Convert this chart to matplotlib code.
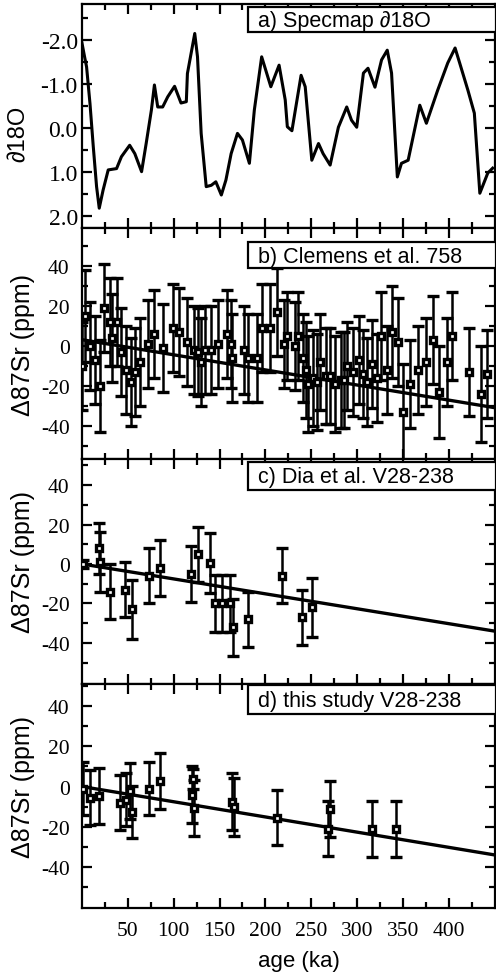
import matplotlib
matplotlib.use("Agg")
import matplotlib.pyplot as plt
from matplotlib.patches import Rectangle
from matplotlib.ticker import FixedLocator, FixedFormatter

# a) SPECMAP d18O stack (ka, normalised d18O)
spec_age = [0, 3, 5, 8.7, 12.3, 15.9, 18.8, 23, 28.6, 37.7, 43, 52, 57.6, 65, 70, 75.7,
            79, 82.6, 88, 93.5, 101, 108, 113.8, 115, 123, 126, 130, 135.5, 141, 146,
            152, 157, 162.7, 169.6, 175, 182.6, 188, 196, 206, 215, 221.7, 224, 229,
            239, 243.5, 250.7, 258, 263, 270.7, 279.7, 288.8, 294, 299.7, 307, 312,
            319.6, 326.8, 333, 337.7, 344, 348.5, 355.8, 368.5, 375.7, 388, 399, 407,
            412, 421, 428, 434, 442.7, 448]
spec_d18o = [-1.93, -1.6, -1.39, -0.56, 0.42, 1.33, 1.82, 1.41, 0.95, 0.92, 0.65, 0.39,
             0.58, 0.99, 0.35, -0.41, -0.98, -0.48, -0.48, -0.71, -0.95, -0.57, -0.6,
             -1.24, -2.15, -1.62, 0.12, 1.33, 1.3, 1.22, 1.52, 1.18, 0.58, 0.12, 0.27,
             0.8, -0.41, -1.62, -0.94, -1.43, -0.64, -0.03, 0.06, -1.2, -0.94, 0.73,
             0.35, 0.58, 0.84, -0.02, -0.48, -0.18, -0.02, -1.25, -1.36, -0.93, -1.55,
             -1.77, -1.25, 1.11, 0.8, 0.73, -0.52, -0.11, -0.86, -1.48, -1.82, -1.48,
             -0.86, -0.34, 1.48, 1.02, 0.91]

# b) Clemens et al. 758
clem_age = [0, 3, 9, 14, 20, 24, 30, 33, 38, 43, 48, 53, 58, 63, 72, 79, 88, 99, 106,
            114, 122, 126, 130, 134, 141, 148, 158, 162, 164, 177, 181, 191, 196, 205,
            213, 220, 224, 232, 236, 241, 244, 247, 252, 256, 260, 266, 271, 276, 282,
            286, 289, 296, 302, 307, 311, 316, 322, 326, 333, 338, 345, 350, 358, 366,
            375, 383, 389, 398, 404, 422, 435, 442]
clem_sr = [-10, 15, 0, -7, -20, 19, 12, 4, 12, -3, -12, -18, -13, -8, 1, 6, -1, 9, 7,
           2, -2, -3, -8, -2, -2, 1, 6, 1, -6, -2, -6, -6, 9, 9, 17, 1, 5, 0, 5, -6,
           -12, -19, -16, -18, -8, -15, -15, -19, -17, -17, -10, -13, -7, -14, -18, -9,
           -16, 5, -12, 7, 2, -33, -19, -12, -8, 3, -23, -8, 5, -13, -24, -14]
clem_err = [22, 23, 22, 22, 23, 22, 22, 22, 22, 22, 22, 22, 22, 22, 22, 22, 22, 22, 22,
            22, 22, 22, 22, 22, 22, 22, 22, 22, 22, 22, 22, 22, 22, 22, 22, 22, 22, 22,
            22, 22, 24, 24, 24, 24, 24, 24, 24, 24, 24, 24, 22, 22, 22, 22, 22, 22, 22,
            22, 22, 23, 22, 24, 22, 22, 22, 22, 23, 22, 22, 22, 24, 22]

# c) Dia et al. V28-238
dia_age = [1, 19, 19.5, 30, 47, 55, 73, 85, 119, 127, 140, 145, 153, 161, 165, 181,
           218, 240, 251]
dia_sr = [0, 8, 1, -14, -13, -23, -6, -2, -5, 5, 0.5, -20, -20, -20, -32, -28, -6,
          -27, -22]
dia_err = [2, 13, 15, 14, 14, 15, 14, 14, 14, 14, 15, 14.5, 14.5, 14.5, 14.5, 14, 14,
           14, 15]

# d) this study V28-238
this_age = [1, 9, 19, 41, 48, 52, 54, 73, 85, 120, 121, 122, 164, 166, 213, 268, 271,
            316, 342]
this_sr = [-1, -5.5, -4.6, -8, -6.5, -2.2, -12.6, -1, 2.8, -4, 3.6, -10.5, -7.5, -10,
           -15.4, -20.9, -11, -21.2, -21.2]
this_err = [13, 13.5, 14, 13.5, 13, 14, 13, 13, 14, 14, 5, 14, 14.3, 14.5, 13.5, 13.5,
            14, 14, 14]

# reference trend
trend_age = [0, 450]
trend_sr = [0, -34]
trend_sr_b = [3, -31]

x_ticks = [50, 100, 150, 200, 250, 300, 350, 400]
x_labels = ["50", "100", "150", "200", "250", "300", "350", "400"]
x_minor = [25, 75, 125, 175, 225, 275, 325, 375, 425]
d18o_ticks = [-2, -1, 0, 1, 2]
d18o_labels = ["-2.0", "-1.0", "0.0", "1.0", "2.0"]
d18o_minor = [-2.5, -1.5, -0.5, 0.5, 1.5]
sr_ticks = [-40, -20, 0, 20, 40]
sr_labels = ["-40", "-20", "0", "20", "40"]
sr_minor = [-50, -30, -10, 10, 30, 50]

titles = ["a) Specmap \u220218O", "b) Clemens et al. 758",
          "c) Dia et al. V28-238", "d) this study V28-238"]

W, H = 496, 979
SANS = ["Liberation Sans", "DejaVu Sans"]
plt.rcParams["font.family"] = ["Liberation Serif", "DejaVu Serif"]
plt.rcParams["axes.unicode_minus"] = False
plt.rcParams["axes.linewidth"] = 1.6


def fx(px):
    return px / W


def fy(py):
    return 1 - py / H


def panel(top, bottom):
    return fig.add_axes([fx(82), fy(bottom), fx(494.5) - fx(82), (bottom - top) / H])


def style(ax, ticks, labels, minor, ypad):
    ax.set_xlim(0, 450)
    ax.xaxis.set_major_locator(FixedLocator(x_ticks))
    ax.xaxis.set_minor_locator(FixedLocator(x_minor))
    ax.yaxis.set_major_locator(FixedLocator(ticks))
    ax.yaxis.set_major_formatter(FixedFormatter(labels))
    ax.yaxis.set_minor_locator(FixedLocator(minor))
    ax.tick_params(which="both", direction="in", top=True, right=True, width=1.6)
    ax.tick_params(which="major", length=7)
    ax.tick_params(which="minor", length=4)
    ax.tick_params(axis="y", labelsize=15.5, pad=ypad)
    ax.tick_params(axis="x", labelbottom=False)


def label_box(top, bottom, text):
    fig.add_artist(Rectangle((fx(248), fy(bottom)), fx(496) - fx(248), (bottom - top) / H,
                             transform=fig.transFigure, facecolor="white",
                             edgecolor="black", linewidth=1.6, zorder=10))
    fig.text(fx(258), fy((top + bottom) / 2 + 1), text, family=SANS, fontsize=15.5,
             ha="left", va="center", zorder=11)


def sr_panel(ax, age, sr, err, line):
    ax.plot(trend_age, line, color="black", lw=2.4, zorder=2)
    ax.errorbar(age, sr, yerr=err, fmt="s", ms=5, mfc="white", mec="black", mew=2.4,
                ecolor="black", elinewidth=1.8, capsize=4.5, capthick=1.8, zorder=3)


fig = plt.figure(figsize=(W / 100, H / 100), dpi=100)

ax_a = panel(5, 229)
ax_b = panel(229, 460)
ax_c = panel(460, 685)
ax_d = panel(685, 909)

ax_a.plot(spec_age, spec_d18o, color="black", lw=2.2)
style(ax_a, d18o_ticks, d18o_labels, d18o_minor, 3)
ax_a.set_ylim(2.27, -2.82)
ax_a.tick_params(axis="y", labelsize=17)

sr_panel(ax_b, clem_age, clem_sr, clem_err, trend_sr_b)
style(ax_b, sr_ticks, sr_labels, sr_minor, 9)
ax_b.set_ylim(-56.7, 58.9)

sr_panel(ax_c, dia_age, dia_sr, dia_err, trend_sr)
style(ax_c, sr_ticks, sr_labels, sr_minor, 9)
ax_c.set_ylim(-60.8, 53.2)

sr_panel(ax_d, this_age, this_sr, this_err, trend_sr)
style(ax_d, sr_ticks, sr_labels, sr_minor, 9)
ax_d.set_ylim(-60.4, 51)
ax_d.tick_params(axis="x", labelbottom=True, labelsize=15.5, pad=9.5)
ax_d.xaxis.set_major_formatter(FixedFormatter(x_labels))

label_box(8, 33, titles[0])
label_box(243, 269, titles[1])
label_box(463, 491, titles[2])
label_box(686, 715, titles[3])

# axis titles
fig.text(fx(19), fy(134), "\u220218O", family=SANS, fontsize=17, rotation=90,
         ha="center", va="center")
for yc in [345, 562, 787]:
    fig.text(fx(23), fy(yc), "\u039487Sr (ppm)", family=SANS, fontsize=18, rotation=90,
             ha="center", va="center")
fig.text(fx(299), fy(962), "age (ka)", family=SANS, fontsize=16, ha="center",
         va="center")

fig.savefig("out.png", dpi=100)
